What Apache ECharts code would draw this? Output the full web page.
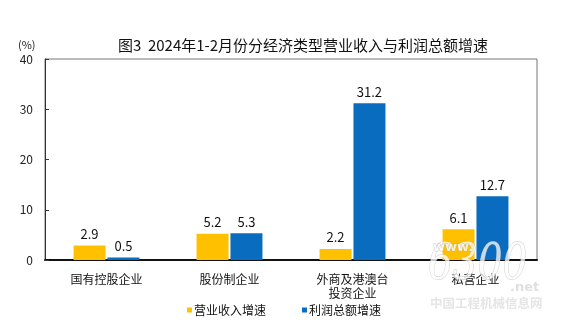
<!DOCTYPE html>
<html>
<head>
<meta charset="utf-8">
<script src="https://cdn.jsdelivr.net/npm/echarts@6/dist/echarts.min.js"></script>
<style>
  html, body { margin: 0; padding: 0; background: #fff; }
  #chart { width: 573px; height: 334px; }
</style>
</head>
<body>
<div id="chart"></div>
<script>
// Categories and growth rates (%) for Jan–Feb 2024
const categories = ['国有控股企业', '股份制企业', '外商及港澳台\n投资企业', '私营企业'];
const revenueGrowth = [2.9, 5.2, 2.2, 6.1];
const profitGrowth = [0.5, 5.3, 31.2, 12.7];
const yTicks = { min: 0, max: 40, interval: 10 };
const seriesNames = ['营业收入增速', '利润总额增速'];

const FONT = '"Noto Sans CJK SC", "Noto Sans", sans-serif';
const WM_FILL = 'rgba(255,255,255,0.75)';
const WM_STROKE = 'rgba(170,170,170,0.55)';

const chart = echarts.init(document.getElementById('chart'));
chart.setOption({
  animation: false,
  backgroundColor: '#fff',
  textStyle: { fontFamily: FONT },
  title: {
    text: '图3  2024年1-2月份分经济类型营业收入与利润总额增速',
    left: 298,
    textAlign: 'center',
    top: 33,
    textStyle: { fontSize: 15, fontWeight: 'normal', color: '#111', fontFamily: FONT }
  },
  grid: {
    left: 45, right: 36, top: 59, bottom: 74,
    show: true, borderColor: '#777', borderWidth: 1
  },
  legend: {
    left: 182, top: 299,
    itemWidth: 5, itemHeight: 5, itemGap: 36,
    icon: 'rect',
    textStyle: { fontSize: 12, color: '#111', padding: [0, 0, 0, -3] },
    data: seriesNames
  },
  xAxis: {
    type: 'category',
    data: categories,
    axisLine: { lineStyle: { color: '#111', width: 2 } },
    axisTick: { show: false },
    axisLabel: { fontSize: 12, color: '#111', margin: 12, lineHeight: 14 }
  },
  yAxis: {
    type: 'value',
    min: yTicks.min, max: yTicks.max, interval: yTicks.interval,
    splitLine: { show: false },
    axisLine: { show: true, lineStyle: { color: '#333' } },
    axisTick: { show: true, inside: true, length: 4, lineStyle: { color: '#333' } },
    axisLabel: { fontSize: 12, color: '#222', margin: 12 }
  },
  graphic: [
    { type: 'text', left: 18, top: 39, style: { text: '(%)', fontSize: 11, fill: '#222', fontFamily: FONT } },
    // translucent site watermark over the lower right corner
    { type: 'text', x: 428, y: 241, scaleX: 0.78, silent: true, z: 100,
      style: { text: '6300', fontSize: 50, fontStyle: 'italic', fill: WM_FILL,
               stroke: WM_STROKE, lineWidth: 1, fontFamily: 'DejaVu Serif' } },
    { type: 'text', x: 433, y: 241, silent: true, z: 100,
      style: { text: 'www.', fontSize: 13, fontWeight: 'bold', fill: WM_FILL,
               stroke: WM_STROKE, lineWidth: 0.8, fontFamily: 'DejaVu Sans' } },
    { type: 'text', x: 510, y: 281, silent: true, z: 100,
      style: { text: '.net', fontSize: 13, fontWeight: 'bold', fill: 'rgba(215,215,215,0.8)', fontFamily: 'DejaVu Sans' } },
    { type: 'text', x: 430, y: 297, silent: true, z: 100,
      style: { text: '中国工程机械信息网', fontSize: 12.5, fontWeight: 'bold', fill: 'rgba(225,225,225,0.85)', fontFamily: FONT } }
  ],
  series: [
    {
      name: seriesNames[0], type: 'bar', data: revenueGrowth,
      barWidth: 32, barGap: '6%',
      itemStyle: { color: '#FFC000' },
      label: { show: true, position: 'top', distance: 5, fontSize: 13, color: '#111' }
    },
    {
      name: seriesNames[1], type: 'bar', data: profitGrowth,
      barWidth: 32,
      itemStyle: { color: '#0A6CBF' },
      label: { show: true, position: 'top', distance: 5, fontSize: 13, color: '#111' }
    }
  ]
});
</script>
</body>
</html>
